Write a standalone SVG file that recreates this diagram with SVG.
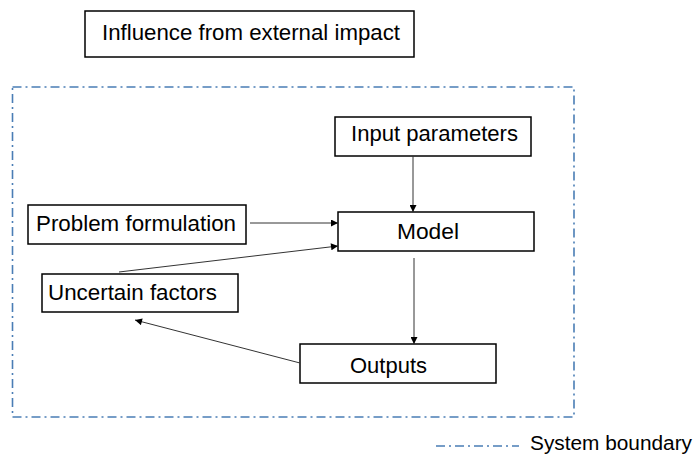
<svg xmlns="http://www.w3.org/2000/svg" width="697" height="458" viewBox="0 0 697 458">
  <style>
    .box { fill: #ffffff; stroke: #000000; stroke-width: 1.5; }
    .lbl { font-family: "Liberation Sans", Arial, sans-serif; font-size: 22px; fill: #000000; }
    .legend-lbl { font-size: 20px; }
    .edge { fill: none; stroke: #333333; stroke-width: 1; }
    .boundary { fill: none; stroke: #4a7db5; stroke-width: 1.6; stroke-dasharray: 9 4 2 4; }
  </style>
  <defs>
    <marker id="arrow" viewBox="0 0 10 10" refX="10" refY="5" markerWidth="8" markerHeight="7" markerUnits="userSpaceOnUse" orient="auto">
      <path d="M0,0 L10,5 L0,10 z" fill="#000000"/>
    </marker>
  </defs>

  <rect width="697" height="458" fill="#ffffff"/>

  <!-- system boundary -->
  <rect class="boundary" x="12.5" y="87" width="561.5" height="330"/>

  <g id="external">
    <rect class="box" x="85" y="11" width="329" height="46"/>
    <text class="lbl" x="102" y="40" textLength="298" lengthAdjust="spacingAndGlyphs">Influence from external impact</text>
  </g>

  <g id="input">
    <rect class="box" x="335" y="117" width="196" height="39"/>
    <text class="lbl" x="351" y="141" textLength="167" lengthAdjust="spacingAndGlyphs">Input parameters</text>
  </g>

  <g id="model">
    <rect class="box" x="338" y="212" width="196" height="39"/>
    <text class="lbl" x="397" y="239" textLength="62" lengthAdjust="spacingAndGlyphs">Model</text>
  </g>

  <g id="problem">
    <rect class="box" x="28" y="205" width="218" height="39"/>
    <text class="lbl" x="36" y="231" textLength="200" lengthAdjust="spacingAndGlyphs">Problem formulation</text>
  </g>

  <g id="uncertain">
    <rect class="box" x="42" y="274" width="196" height="38"/>
    <text class="lbl" x="48" y="300" textLength="169" lengthAdjust="spacingAndGlyphs">Uncertain factors</text>
  </g>

  <g id="outputs">
    <rect class="box" x="300" y="344" width="196" height="39"/>
    <text class="lbl" x="350" y="373" textLength="77" lengthAdjust="spacingAndGlyphs">Outputs</text>
  </g>

  <g id="connectors">
    <line class="edge" x1="413" y1="156" x2="413" y2="212" marker-end="url(#arrow)"/>
    <line class="edge" x1="250" y1="223" x2="338" y2="223" marker-end="url(#arrow)"/>
    <line class="edge" x1="119" y1="272" x2="338" y2="246" marker-end="url(#arrow)"/>
    <line class="edge" x1="414" y1="258" x2="414" y2="344" marker-end="url(#arrow)"/>
    <line class="edge" x1="300" y1="363" x2="135" y2="320" marker-end="url(#arrow)"/>
  </g>

  <g id="legend">
    <line class="boundary" x1="436" y1="446" x2="519" y2="446"/>
    <text class="lbl legend-lbl" x="530" y="450" textLength="162" lengthAdjust="spacingAndGlyphs">System boundary</text>
  </g>
</svg>
